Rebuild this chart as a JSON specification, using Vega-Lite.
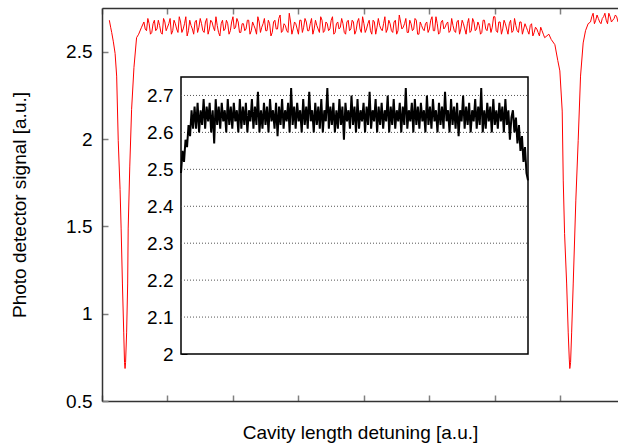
{
  "$schema": "https://vega.github.io/schema/vega-lite/v6.json",
  "width": 516,
  "height": 393,
  "autosize": "none",
  "padding": {"left": 102, "top": 8, "right": 0, "bottom": 43},
  "background": "white",
  "config": {
    "view": {"stroke": null},
    "font": "Liberation Sans",
    "axis": {"labelFont": "Liberation Sans", "titleFont": "Liberation Sans", "labelFontSize": 19, "titleFontSize": 19, "titleFontWeight": "normal", "labelColor": "#000", "titleColor": "#000", "grid": false}
  },
  "datasets": {
    "main": [
      {"i":2.8,"v":2.68},{"i":3.3,"v":2.64},{"i":3.7,"v":2.61},{"i":4.3,"v":2.56},{"i":5.0,"v":2.49},{"i":5.6,"v":2.36},{"i":6.2,"v":1.99},{"i":6.9,"v":1.71},{"i":7.3,"v":1.49},{"i":7.8,"v":1.17},{"i":8.3,"v":0.89},{"i":8.6,"v":0.72},{"i":8.8,"v":0.686},{"i":9.0,"v":0.72},{"i":9.4,"v":0.89},{"i":9.8,"v":1.17},{"i":10.0,"v":1.49},{"i":10.6,"v":1.84},{"i":11.3,"v":2.17},{"i":12.2,"v":2.41},{"i":13.2,"v":2.58},{"i":14.0,"v":2.60},{"i":15.1,"v":2.64},
      {"i":16,"v":2.67},{"i":17,"v":2.62},{"i":18,"v":2.66},{"i":19,"v":2.61},{"i":20,"v":2.68},{"i":21,"v":2.63},{"i":22,"v":2.65},{"i":23,"v":2.60},{"i":24,"v":2.67},{"i":25,"v":2.64},
      {"i":26,"v":2.69},{"i":27,"v":2.62},{"i":28,"v":2.66},{"i":29,"v":2.61},{"i":30,"v":2.67},{"i":31,"v":2.63},{"i":32,"v":2.70},{"i":33,"v":2.62},{"i":34,"v":2.65},{"i":35,"v":2.60},
      {"i":36,"v":2.68},{"i":37,"v":2.64},{"i":38,"v":2.66},{"i":39,"v":2.61},{"i":40,"v":2.69},{"i":41,"v":2.63},{"i":42,"v":2.67},{"i":43,"v":2.62},{"i":44,"v":2.65},{"i":45,"v":2.59},
      {"i":46,"v":2.68},{"i":47,"v":2.63},{"i":48,"v":2.66},{"i":49,"v":2.62},{"i":50,"v":2.70},{"i":51,"v":2.64},{"i":52,"v":2.67},{"i":53,"v":2.61},{"i":54,"v":2.66},{"i":55,"v":2.63},
      {"i":56,"v":2.68},{"i":57,"v":2.62},{"i":58,"v":2.65},{"i":59,"v":2.60},{"i":60,"v":2.67},{"i":61,"v":2.64},{"i":62,"v":2.69},{"i":63,"v":2.62},{"i":64,"v":2.66},{"i":65,"v":2.61},
      {"i":66,"v":2.68},{"i":67,"v":2.63},{"i":68,"v":2.71},{"i":69,"v":2.62},{"i":70,"v":2.65},{"i":71,"v":2.61},{"i":72,"v":2.67},{"i":73,"v":2.63},{"i":74,"v":2.66},{"i":75,"v":2.60},
      {"i":76,"v":2.68},{"i":77,"v":2.64},{"i":78,"v":2.67},{"i":79,"v":2.62},{"i":80,"v":2.69},{"i":81,"v":2.63},{"i":82,"v":2.65},{"i":83,"v":2.61},{"i":84,"v":2.68},{"i":85,"v":2.62},
      {"i":86,"v":2.66},{"i":87,"v":2.63},{"i":88,"v":2.70},{"i":89,"v":2.61},{"i":90,"v":2.67},{"i":91,"v":2.64},{"i":92,"v":2.66},{"i":93,"v":2.60},{"i":94,"v":2.68},{"i":95,"v":2.63},
      {"i":96,"v":2.67},{"i":97,"v":2.62},{"i":98,"v":2.69},{"i":99,"v":2.61},{"i":100,"v":2.66},{"i":101,"v":2.63},{"i":102,"v":2.68},{"i":103,"v":2.60},{"i":104,"v":2.67},{"i":105,"v":2.64},
      {"i":106,"v":2.65},{"i":107,"v":2.62},{"i":108,"v":2.70},{"i":109,"v":2.63},{"i":110,"v":2.66},{"i":111,"v":2.61},{"i":112,"v":2.68},{"i":113,"v":2.62},{"i":114,"v":2.67},{"i":115,"v":2.64},
      {"i":116,"v":2.69},{"i":117,"v":2.61},{"i":118,"v":2.66},{"i":119,"v":2.63},{"i":120,"v":2.68},{"i":121,"v":2.60},{"i":122,"v":2.65},{"i":123,"v":2.62},{"i":124,"v":2.67},{"i":125,"v":2.63},
      {"i":126,"v":2.70},{"i":127,"v":2.62},{"i":128,"v":2.66},{"i":129,"v":2.61},{"i":130,"v":2.68},{"i":131,"v":2.64},{"i":132,"v":2.67},{"i":133,"v":2.62},{"i":134,"v":2.65},{"i":135,"v":2.61},
      {"i":136,"v":2.68},{"i":137,"v":2.63},{"i":138,"v":2.66},{"i":139,"v":2.60},{"i":140,"v":2.69},{"i":141,"v":2.62},{"i":142,"v":2.67},{"i":143,"v":2.63},{"i":144,"v":2.65},{"i":145,"v":2.61},
      {"i":146,"v":2.68},{"i":147,"v":2.62},{"i":148,"v":2.66},{"i":149,"v":2.64},{"i":150,"v":2.70},{"i":151,"v":2.61},{"i":152,"v":2.67},{"i":153,"v":2.63},{"i":154,"v":2.66},{"i":155,"v":2.60},
      {"i":156,"v":2.68},{"i":157,"v":2.62},{"i":158,"v":2.65},{"i":159,"v":2.61},{"i":160,"v":2.67},{"i":161,"v":2.63},{"i":162,"v":2.64},{"i":163,"v":2.60},{"i":164,"v":2.66},{"i":165,"v":2.61},
      {"i":166,"v":2.63},{"i":167,"v":2.59},{"i":168,"v":2.62},{"i":169,"v":2.58},
      {"i":170.6,"v":2.60},{"i":171.5,"v":2.57},{"i":172.9,"v":2.54},{"i":174.0,"v":2.45},{"i":174.8,"v":2.39},{"i":175.7,"v":2.16},{"i":176.1,"v":1.76},{"i":176.6,"v":1.46},{"i":177.4,"v":1.17},{"i":178.0,"v":0.89},{"i":178.4,"v":0.74},{"i":178.6,"v":0.686},{"i":178.9,"v":0.72},{"i":179.3,"v":0.89},{"i":179.9,"v":1.17},{"i":180.9,"v":1.65},{"i":181.8,"v":1.99},{"i":182.7,"v":2.36},{"i":183.7,"v":2.55},{"i":184.6,"v":2.62},{"i":185.6,"v":2.66},
      {"i":187,"v":2.70},{"i":188,"v":2.66},{"i":189,"v":2.71},{"i":190,"v":2.67},{"i":191,"v":2.69},{"i":192,"v":2.72},{"i":193,"v":2.66},{"i":194,"v":2.70},{"i":195,"v":2.68},{"i":196,"v":2.71},{"i":197,"v":2.67},
      {"i":16.5,"v":2.63},{"i":17.5,"v":2.69},{"i":18.5,"v":2.60},{"i":19.5,"v":2.66},{"i":20.5,"v":2.62},{"i":21.5,"v":2.68},{"i":22.5,"v":2.61},{"i":23.5,"v":2.69},{"i":24.5,"v":2.62},{"i":25.5,"v":2.66},
      {"i":26.5,"v":2.60},{"i":27.5,"v":2.68},{"i":28.5,"v":2.63},{"i":29.5,"v":2.70},{"i":30.5,"v":2.61},{"i":31.5,"v":2.66},{"i":32.5,"v":2.59},{"i":33.5,"v":2.68},{"i":34.5,"v":2.63},{"i":35.5,"v":2.67},
      {"i":36.5,"v":2.61},{"i":37.5,"v":2.69},{"i":38.5,"v":2.62},{"i":39.5,"v":2.67},{"i":40.5,"v":2.60},{"i":41.5,"v":2.68},{"i":42.5,"v":2.64},{"i":43.5,"v":2.70},{"i":44.5,"v":2.61},{"i":45.5,"v":2.66},
      {"i":46.5,"v":2.62},{"i":47.5,"v":2.68},{"i":48.5,"v":2.60},{"i":49.5,"v":2.67},{"i":50.5,"v":2.63},{"i":51.5,"v":2.69},{"i":52.5,"v":2.61},{"i":53.5,"v":2.66},{"i":54.5,"v":2.62},{"i":55.5,"v":2.68},
      {"i":56.5,"v":2.60},{"i":57.5,"v":2.67},{"i":58.5,"v":2.63},{"i":59.5,"v":2.70},{"i":60.5,"v":2.61},{"i":61.5,"v":2.66},{"i":62.5,"v":2.62},{"i":63.5,"v":2.68},{"i":64.5,"v":2.59},{"i":65.5,"v":2.67},
      {"i":66.5,"v":2.63},{"i":67.5,"v":2.69},{"i":68.5,"v":2.61},{"i":69.5,"v":2.66},{"i":70.5,"v":2.62},{"i":71.5,"v":2.72},{"i":72.5,"v":2.60},{"i":73.5,"v":2.67},{"i":74.5,"v":2.63},{"i":75.5,"v":2.68},
      {"i":76.5,"v":2.61},{"i":77.5,"v":2.69},{"i":78.5,"v":2.62},{"i":79.5,"v":2.66},{"i":80.5,"v":2.60},{"i":81.5,"v":2.68},{"i":82.5,"v":2.63},{"i":83.5,"v":2.70},{"i":84.5,"v":2.61},{"i":85.5,"v":2.67},
      {"i":86.5,"v":2.62},{"i":87.5,"v":2.68},{"i":88.5,"v":2.60},{"i":89.5,"v":2.66},{"i":90.5,"v":2.63},{"i":91.5,"v":2.69},{"i":92.5,"v":2.61},{"i":93.5,"v":2.67},{"i":94.5,"v":2.62},{"i":95.5,"v":2.68},
      {"i":96.5,"v":2.60},{"i":97.5,"v":2.67},{"i":98.5,"v":2.63},{"i":99.5,"v":2.70},{"i":100.5,"v":2.61},{"i":101.5,"v":2.66},{"i":102.5,"v":2.62},{"i":103.5,"v":2.68},{"i":104.5,"v":2.60},{"i":105.5,"v":2.69},
      {"i":106.5,"v":2.63},{"i":107.5,"v":2.66},{"i":108.5,"v":2.61},{"i":109.5,"v":2.68},{"i":110.5,"v":2.62},{"i":111.5,"v":2.67},{"i":112.5,"v":2.60},{"i":113.5,"v":2.71},{"i":114.5,"v":2.63},{"i":115.5,"v":2.66},
      {"i":116.5,"v":2.61},{"i":117.5,"v":2.68},{"i":118.5,"v":2.62},{"i":119.5,"v":2.69},{"i":120.5,"v":2.60},{"i":121.5,"v":2.67},{"i":122.5,"v":2.63},{"i":123.5,"v":2.66},{"i":124.5,"v":2.61},{"i":125.5,"v":2.68},
      {"i":126.5,"v":2.62},{"i":127.5,"v":2.70},{"i":128.5,"v":2.60},{"i":129.5,"v":2.67},{"i":130.5,"v":2.63},{"i":131.5,"v":2.66},{"i":132.5,"v":2.61},{"i":133.5,"v":2.69},{"i":134.5,"v":2.62},{"i":135.5,"v":2.67},
      {"i":136.5,"v":2.60},{"i":137.5,"v":2.68},{"i":138.5,"v":2.63},{"i":139.5,"v":2.66},{"i":140.5,"v":2.61},{"i":141.5,"v":2.69},{"i":142.5,"v":2.62},{"i":143.5,"v":2.67},{"i":144.5,"v":2.60},{"i":145.5,"v":2.68},
      {"i":146.5,"v":2.63},{"i":147.5,"v":2.66},{"i":148.5,"v":2.61},{"i":149.5,"v":2.70},{"i":150.5,"v":2.62},{"i":151.5,"v":2.67},{"i":152.5,"v":2.60},{"i":153.5,"v":2.68},{"i":154.5,"v":2.63},{"i":155.5,"v":2.66},
      {"i":156.5,"v":2.61},{"i":157.5,"v":2.69},{"i":158.5,"v":2.62},{"i":159.5,"v":2.67},{"i":160.5,"v":2.60},{"i":161.5,"v":2.66},{"i":162.5,"v":2.62},{"i":163.5,"v":2.65},{"i":164.5,"v":2.59},{"i":165.5,"v":2.64},
      {"i":166.5,"v":2.61},{"i":167.5,"v":2.64},{"i":168.5,"v":2.60},
      {"i":186.5,"v":2.67},{"i":187.5,"v":2.72},{"i":188.5,"v":2.68},{"i":189.5,"v":2.69},{"i":190.5,"v":2.66},{"i":191.5,"v":2.70},{"i":192.5,"v":2.68},{"i":193.5,"v":2.72},{"i":194.5,"v":2.67},{"i":195.5,"v":2.69},{"i":196.5,"v":2.70}
    ],
    "inset": [
      {"j":0,"w":2.49},{"j":1,"w":2.55},{"j":2,"w":2.52},{"j":3,"w":2.58},{"j":4,"w":2.56},{"j":5,"w":2.62},{"j":6,"w":2.59},{"j":7,"w":2.66},{"j":8,"w":2.61},
      {"j":9,"w":2.67},{"j":10,"w":2.61},{"j":11,"w":2.68},{"j":12,"w":2.60},{"j":13,"w":2.66},{"j":14,"w":2.62},{"j":15,"w":2.69},{"j":16,"w":2.61},{"j":17,"w":2.67},{"j":18,"w":2.63},
      {"j":19,"w":2.68},{"j":20,"w":2.60},{"j":21,"w":2.66},{"j":22,"w":2.57},{"j":23,"w":2.69},{"j":24,"w":2.62},{"j":25,"w":2.67},{"j":26,"w":2.61},{"j":27,"w":2.68},{"j":28,"w":2.63},
      {"j":29,"w":2.66},{"j":30,"w":2.60},{"j":31,"w":2.69},{"j":32,"w":2.62},{"j":33,"w":2.67},{"j":34,"w":2.61},{"j":35,"w":2.68},{"j":36,"w":2.63},{"j":37,"w":2.66},{"j":38,"w":2.60},
      {"j":39,"w":2.69},{"j":40,"w":2.61},{"j":41,"w":2.67},{"j":42,"w":2.62},{"j":43,"w":2.68},{"j":44,"w":2.60},{"j":45,"w":2.66},{"j":46,"w":2.63},{"j":47,"w":2.69},{"j":48,"w":2.61},
      {"j":49,"w":2.67},{"j":50,"w":2.62},{"j":51,"w":2.71},{"j":52,"w":2.60},{"j":53,"w":2.66},{"j":54,"w":2.61},{"j":55,"w":2.68},{"j":56,"w":2.62},{"j":57,"w":2.67},{"j":58,"w":2.60},
      {"j":59,"w":2.69},{"j":60,"w":2.63},{"j":61,"w":2.66},{"j":62,"w":2.61},{"j":63,"w":2.68},{"j":64,"w":2.59},{"j":65,"w":2.67},{"j":66,"w":2.62},{"j":67,"w":2.69},{"j":68,"w":2.61},
      {"j":69,"w":2.66},{"j":70,"w":2.63},{"j":71,"w":2.68},{"j":72,"w":2.60},{"j":73,"w":2.72},{"j":74,"w":2.62},{"j":75,"w":2.67},{"j":76,"w":2.61},{"j":77,"w":2.68},{"j":78,"w":2.63},
      {"j":79,"w":2.66},{"j":80,"w":2.60},{"j":81,"w":2.69},{"j":82,"w":2.62},{"j":83,"w":2.67},{"j":84,"w":2.61},{"j":85,"w":2.71},{"j":86,"w":2.63},{"j":87,"w":2.66},{"j":88,"w":2.60},
      {"j":89,"w":2.68},{"j":90,"w":2.62},{"j":91,"w":2.67},{"j":92,"w":2.61},{"j":93,"w":2.69},{"j":94,"w":2.60},{"j":95,"w":2.66},{"j":96,"w":2.63},{"j":97,"w":2.72},{"j":98,"w":2.61},
      {"j":99,"w":2.67},{"j":100,"w":2.62},{"j":101,"w":2.68},{"j":102,"w":2.60},{"j":103,"w":2.66},{"j":104,"w":2.61},{"j":105,"w":2.69},{"j":106,"w":2.62},{"j":107,"w":2.67},{"j":108,"w":2.58},
      {"j":109,"w":2.68},{"j":110,"w":2.63},{"j":111,"w":2.66},{"j":112,"w":2.61},{"j":113,"w":2.70},{"j":114,"w":2.62},{"j":115,"w":2.67},{"j":116,"w":2.60},{"j":117,"w":2.69},{"j":118,"w":2.61},
      {"j":119,"w":2.66},{"j":120,"w":2.63},{"j":121,"w":2.68},{"j":122,"w":2.60},{"j":123,"w":2.67},{"j":124,"w":2.62},{"j":125,"w":2.71},{"j":126,"w":2.61},{"j":127,"w":2.66},{"j":128,"w":2.63},
      {"j":129,"w":2.69},{"j":130,"w":2.60},{"j":131,"w":2.67},{"j":132,"w":2.62},{"j":133,"w":2.68},{"j":134,"w":2.61},{"j":135,"w":2.66},{"j":136,"w":2.63},{"j":137,"w":2.70},{"j":138,"w":2.60},
      {"j":139,"w":2.67},{"j":140,"w":2.62},{"j":141,"w":2.69},{"j":142,"w":2.61},{"j":143,"w":2.66},{"j":144,"w":2.63},{"j":145,"w":2.68},{"j":146,"w":2.60},{"j":147,"w":2.67},{"j":148,"w":2.62},
      {"j":149,"w":2.72},{"j":150,"w":2.61},{"j":151,"w":2.66},{"j":152,"w":2.63},{"j":153,"w":2.68},{"j":154,"w":2.60},{"j":155,"w":2.69},{"j":156,"w":2.62},{"j":157,"w":2.67},{"j":158,"w":2.61},
      {"j":159,"w":2.68},{"j":160,"w":2.63},{"j":161,"w":2.66},{"j":162,"w":2.60},{"j":163,"w":2.70},{"j":164,"w":2.62},{"j":165,"w":2.67},{"j":166,"w":2.61},{"j":167,"w":2.69},{"j":168,"w":2.63},
      {"j":169,"w":2.66},{"j":170,"w":2.60},{"j":171,"w":2.68},{"j":172,"w":2.62},{"j":173,"w":2.67},{"j":174,"w":2.61},{"j":175,"w":2.71},{"j":176,"w":2.63},{"j":177,"w":2.66},{"j":178,"w":2.60},
      {"j":179,"w":2.69},{"j":180,"w":2.62},{"j":181,"w":2.67},{"j":182,"w":2.61},{"j":183,"w":2.68},{"j":184,"w":2.59},{"j":185,"w":2.66},{"j":186,"w":2.63},{"j":187,"w":2.70},{"j":188,"w":2.61},
      {"j":189,"w":2.67},{"j":190,"w":2.62},{"j":191,"w":2.68},{"j":192,"w":2.60},{"j":193,"w":2.66},{"j":194,"w":2.63},{"j":195,"w":2.69},{"j":196,"w":2.61},{"j":197,"w":2.67},{"j":198,"w":2.62},
      {"j":199,"w":2.72},{"j":200,"w":2.60},{"j":201,"w":2.66},{"j":202,"w":2.61},{"j":203,"w":2.68},{"j":204,"w":2.63},{"j":205,"w":2.67},{"j":206,"w":2.60},{"j":207,"w":2.69},{"j":208,"w":2.62},
      {"j":209,"w":2.66},{"j":210,"w":2.61},{"j":211,"w":2.68},{"j":212,"w":2.63},{"j":213,"w":2.67},{"j":214,"w":2.60},{"j":215,"w":2.69},{"j":216,"w":2.62},{"j":217,"w":2.66},{"j":218,"w":2.58},{"j":219,"w":2.64},
      {"j":220,"w":2.66},{"j":221,"w":2.60},{"j":222,"w":2.64},{"j":223,"w":2.57},{"j":224,"w":2.62},{"j":225,"w":2.55},{"j":226,"w":2.59},{"j":227,"w":2.52},{"j":228,"w":2.56},{"j":229,"w":2.49},{"j":230,"w":2.47}
    ],
    "grid": [{"g":2.1},{"g":2.2},{"g":2.3},{"g":2.4},{"g":2.5},{"g":2.6},{"g":2.7}],
    "frame": [{"x0":0,"x1":230,"y0":2,"y1":2.75}]
  },
  "layer": [
    {
      "data": {"name": "main"},
      "mark": {"type": "line", "color": "#ff0000", "strokeWidth": 1, "interpolate": "linear"},
      "encoding": {
        "x": {"field": "i", "type": "quantitative", "scale": {"domain": [0, 197], "nice": false, "zero": false},
          "axis": {"orient": "bottom", "values": [0,25,50,75,100,125,150,175], "labels": false, "tickSize": -6, "tickColor": "#808080", "tickWidth": 1.5, "domainColor": "#333", "domainWidth": 1.5, "title": "Cavity length detuning [a.u.]", "titlePadding": 22}},
        "y": {"field": "v", "type": "quantitative", "scale": {"domain": [0.5, 2.75], "nice": false, "zero": false},
          "axis": {"orient": "left", "values": [0.5,1,1.5,2,2.5], "format": "~g", "tickSize": -6, "tickColor": "#808080", "tickWidth": 1.5, "domainColor": "#333", "domainWidth": 1.5, "labelPadding": 16, "title": "Photo detector signal [a.u.]", "titlePadding": 36}}
      }
    },
    {
      "data": {"name": "main"},
      "mark": {"type": "line", "opacity": 0},
      "encoding": {
        "x": {"field": "i", "type": "quantitative", "scale": {"domain": [0, 197], "nice": false, "zero": false},
          "axis": {"orient": "top", "values": [0,25,50,75,100,125,150,175], "labels": false, "tickSize": -6, "tickColor": "#808080", "tickWidth": 1.5, "domainColor": "#333", "domainWidth": 1.5, "title": null}},
        "y": {"field": "v", "type": "quantitative", "scale": {"domain": [0.5, 2.75], "nice": false, "zero": false}, "axis": null}
      }
    },
    {
      "layer": [
        {
          "data": {"name": "frame"},
          "mark": {"type": "rect", "fill": "white", "stroke": "#000", "strokeWidth": 1.5},
          "encoding": {
            "x": {"field": "x0", "type": "quantitative", "scale": {"domain": [0, 230], "range": [79, 426], "nice": false, "zero": false}, "axis": null},
            "x2": {"field": "x1"},
            "y": {"field": "y0", "type": "quantitative", "scale": {"domain": [2, 2.75], "range": [346, 69], "nice": false, "zero": false},
              "axis": {"orient": "left", "offset": -79, "values": [2,2.1,2.2,2.3,2.4,2.5,2.6,2.7], "format": "~g", "tickSize": -6, "tickColor": "#000", "tickWidth": 1, "domain": false, "labelPadding": 14, "title": null}},
            "y2": {"field": "y1"}
          }
        },
        {
          "data": {"name": "grid"},
          "mark": {"type": "rule", "color": "#555", "strokeWidth": 1, "strokeDash": [1, 2]},
          "encoding": {
            "y": {"field": "g", "type": "quantitative"},
            "x": {"datum": 0},
            "x2": {"datum": 230}
          }
        },
        {
          "data": {"name": "inset"},
          "mark": {"type": "line", "color": "#000", "strokeWidth": 2},
          "encoding": {
            "x": {"field": "j", "type": "quantitative"},
            "y": {"field": "w", "type": "quantitative"}
          }
        }
      ]
    }
  ],
  "resolve": {"scale": {"x": "independent", "y": "independent"}}
}
